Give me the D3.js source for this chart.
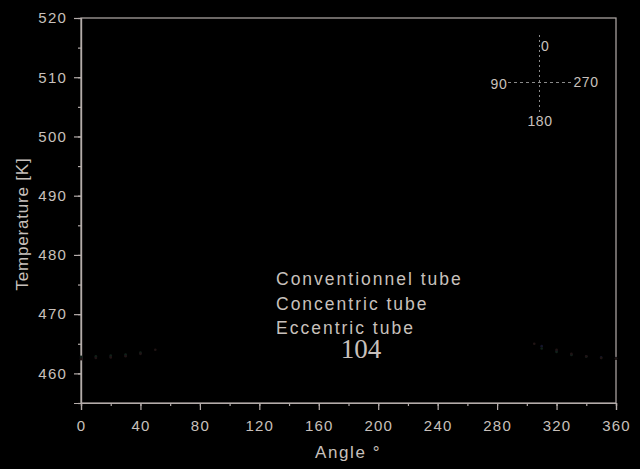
<!DOCTYPE html>
<html><head><meta charset="utf-8">
<script src="https://cdn.jsdelivr.net/npm/d3@7/dist/d3.min.js"></script>
<style>
html,body{margin:0;padding:0;background:#000;}
svg{display:block;}
text{font-family:"Liberation Sans",Arial,sans-serif;}
</style></head><body>
<svg id="c" width="640" height="469"></svg>
<script>
// ---- data ----
const xTicks = [0,40,80,120,160,200,240,280,320,360];
const yTicks = [460,470,480,490,500,510,520];
const seriesNames = ["Conventionnel tube","Concentric tube","Eccentric tube"];
const seriesColors = ["#14142a","#102018","#201414"];
const conventionnelAngles = [0,10,20,30,40,310,320,330,340,350,360];
const conventionnelTemps  = [462.6,462.7,462.8,463.0,463.4,464.6,463.8,463.2,462.9,462.7,462.6];
const concentricAngles = [0,10,20,30,40,310,320,330,340,350,360];
const concentricTemps  = [462.8,462.9,463.0,463.2,463.5,464.2,463.6,463.1,462.8,462.6,462.5];
const eccentricAngles = [0,10,20,30,40,50,305,320,330,340,350,360];
const eccentricTemps  = [462.4,462.6,462.7,462.9,463.3,464.0,465.0,464.0,463.3,462.9,462.6,462.5];
const compassLabels = ["0","90","180","270"];

const svg = d3.select("#c");
const W=640,H=469;
const m={l:81,r:24,t:18,b:66};
const x=d3.scaleLinear().domain([0,360]).range([m.l,W-m.r]);
const y=d3.scaleLinear().domain([455,520]).range([H-m.b,m.t]);
const axisCol="#b4acaa", textCol="#c8c0bc";

// frame
svg.append("rect").attr("x",x(0)).attr("y",y(520)).attr("width",x(360)-x(0)).attr("height",y(455)-y(520))
  .attr("fill","none").attr("stroke",axisCol).attr("stroke-width",1.2);

// ticks
const gx=svg.append("g").attr("transform",`translate(0,${y(455)})`)
  .call(d3.axisBottom(x).tickValues(d3.range(0,361,20)).tickSize(3).tickFormat(""));
const gxM=svg.append("g").attr("transform",`translate(0,${y(455)})`)
  .call(d3.axisBottom(x).tickValues(xTicks).tickSize(7).tickPadding(7).tickFormat(d3.format("d")));
const gy=svg.append("g").attr("transform",`translate(${x(0)},0)`)
  .call(d3.axisLeft(y).tickValues(d3.range(455,521,5)).tickSize(3).tickFormat(""));
const gyM=svg.append("g").attr("transform",`translate(${x(0)},0)`)
  .call(d3.axisLeft(y).tickValues(yTicks).tickSize(7).tickPadding(7).tickFormat(d3.format("d")));
[gx,gxM,gy,gyM].forEach(g=>{
  g.select(".domain").attr("stroke",axisCol).attr("stroke-width",1.2);
  g.selectAll(".tick line").attr("stroke",axisCol).attr("stroke-width",1.2);
  g.selectAll(".tick text").attr("fill",textCol).style("font-size","15px").style("letter-spacing","1.2px")
   .style("font-family","'Liberation Sans',Arial,sans-serif");
});
gxM.selectAll(".tick text").attr("dy","0.95em");

// axis titles
svg.append("text").attr("x",315).attr("y",458).attr("text-anchor","start")
  .attr("fill",textCol).style("font-size","17px").style("letter-spacing","1.6px").text("Angle °");
svg.append("text").attr("transform",`translate(28,224) rotate(-90)`)
  .attr("text-anchor","middle").attr("fill",textCol).style("font-size","17px").style("letter-spacing","0.8px")
  .text("Temperature [K]");

// data points
const sets=[[conventionnelAngles,conventionnelTemps],[concentricAngles,concentricTemps],[eccentricAngles,eccentricTemps]];
sets.forEach((s,i)=>{
  svg.append("g").selectAll("circle").data(s[0].map((a,j)=>[a,s[1][j]])).join("circle")
    .attr("cx",d=>x(d[0])).attr("cy",d=>y(d[1])).attr("r",1.3).attr("fill",seriesColors[i]);
});

// legend
seriesNames.forEach((n,i)=>{
  svg.append("text").attr("x",276).attr("y",285+i*24.5).attr("fill",textCol)
    .style("font-size","17.5px").style("letter-spacing","2px").text(n);
});
svg.append("text").attr("x",361).attr("y",358).attr("text-anchor","middle").attr("fill",textCol)
  .style("font-family","'Liberation Serif','DejaVu Serif',serif").style("font-size","27px").text("104");

// compass
const cx=539.5, cy=82.5;
svg.append("line").attr("x1",cx).attr("x2",cx).attr("y1",35).attr("y2",112)
  .attr("stroke","#8a8a8a").attr("stroke-width",1).attr("stroke-dasharray","2,3");
svg.append("line").attr("x1",508).attr("x2",573).attr("y1",cy).attr("y2",cy)
  .attr("stroke","#8a8a8a").attr("stroke-width",1).attr("stroke-dasharray","3,3");
const cpos=[[541,51,"start"],[499,89,"middle"],[540,126,"middle"],[586,87,"middle"]];
compassLabels.forEach((l,i)=>{
  svg.append("text").attr("x",cpos[i][0]).attr("y",cpos[i][1]).attr("text-anchor",cpos[i][2])
    .attr("fill",textCol).style("font-size","14px").style("letter-spacing","0.6px").text(l);
});
</script>
</body></html>
